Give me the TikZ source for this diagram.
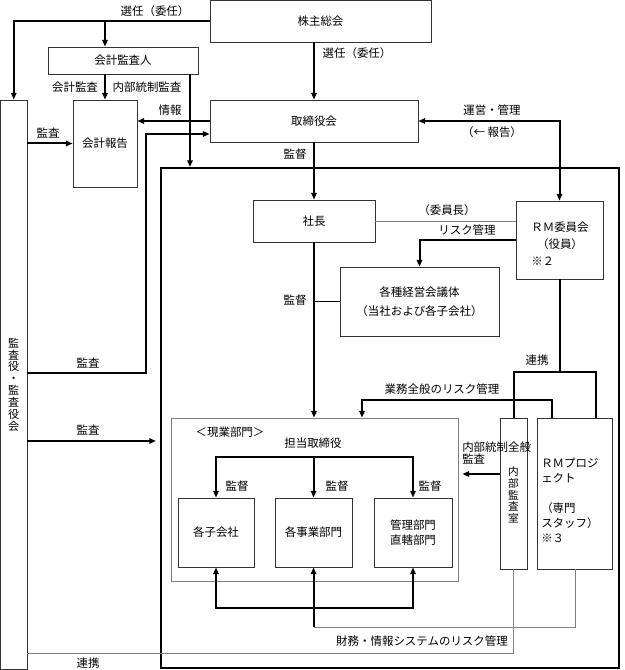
\documentclass[tikz,border=0pt]{standalone}
\usepackage{fontspec}
\setmainfont{Noto Sans CJK JP}
\usetikzlibrary{arrows.meta}
\newcommand\fs{\fontsize{8.6pt}{10pt}\selectfont}
\newcommand\bx[7][]{\node[box,minimum width={(#5-#3)*0.75pt},minimum height={(#6-#4)*0.75pt},#1] (#2) at ({(#3+#5)/2},{(#4+#6)/2}) {#7};}
\begin{document}
\begin{tikzpicture}[x=0.75pt,y=-0.75pt,
  box/.style={draw=black!80,line width=0.6pt,inner sep=0pt,align=center,font=\fs},
  thk/.style={line width=1.5pt},
  thn/.style={line width=0.6pt,draw=black!50},
  arr/.style={-{Triangle[length=5pt,width=4pt]}},
  lbl/.style={inner sep=0pt,font=\fs}]
\useasboundingbox (0,0) rectangle (624,670);
% boxes
\bx{shm}{210}{0.5}{431}{42}{株主総会}
\bx{aud}{48}{47}{198}{74}{会計監査人}
\bx{rep}{73}{100}{137}{187}{会計報告}
\bx[font=\fontsize{8.3pt}{8.9pt}\selectfont]{kan}{0.5}{100}{27}{669}{監\\査\\役\\・\\監\\査\\役\\会}
\bx{bod}{210}{100}{418}{142}{取締役会}
\bx[line width=1.5pt,draw=black]{big}{161}{168}{619}{668}{}
\bx{pres}{253}{200}{375}{242}{社長}
\bx[font=\fontsize{8.6pt}{14.2pt}\selectfont]{mtg}{340}{267}{499}{336}{各種経営会議体\\（当社および各子会社）}
\bx{rmc}{516}{201}{603}{279}{}
\bx[draw=black!50]{gen}{171}{418}{458}{581}{}
\bx{sub}{178}{498}{254}{567}{各子会社}
\bx{biz}{275}{498}{352}{567}{各事業部門}
\bx[font=\fontsize{8.6pt}{11.25pt}\selectfont]{adm}{374}{498}{452}{567}{管理部門\\直轄部門}
\node[box,minimum width={27*0.75pt},minimum height={151*0.75pt}] (ia) at (513.5,493.5) {};
\node[lbl,align=center,font=\fontsize{8pt}{8.8pt}\selectfont] (iat) at (513.5,495) {内\\部\\監\\査\\室};
\bx{rmp}{537}{418}{612}{569}{}
% texts inside RM boxes
\node[lbl,align=center,font=\fontsize{8.6pt}{12.4pt}\selectfont] (rmct) at (560,236) {ＲＭ委員会\\（役員）};
\node[lbl,anchor=west] (rmcn) at (531,261) {※２};
\node[lbl,anchor=west,align=left,font=\fontsize{8.6pt}{11.25pt}\selectfont] (rmpt) at (541,500.5) {ＲＭプロジ\\ェクト\\\mbox{}\\（専門\\スタッフ）\\※３};
% labels
\node[lbl] (l1) at (155,11) {選任（委任）};
\node[lbl] (l2) at (357,53) {選任（委任）};
\node[lbl] (l3) at (75,87) {会計監査};
\node[lbl] (l4) at (147,87) {内部統制監査};
\node[lbl] (l5) at (170,110) {情報};
\node[lbl] (l6) at (48,133) {監査};
\node[lbl] (l7) at (88,363) {監査};
\node[lbl] (l8) at (88,430) {監査};
\node[lbl] (l9) at (295,154) {監督};
\node[lbl] (l10) at (492,110) {運営・管理};
\node[lbl] (l11) at (492,132) {（← 報告）};
\node[lbl] (l12) at (447,210) {（委員長）};
\node[lbl] (l13) at (467,230) {リスク管理};
\node[lbl] (l14) at (295,300) {監督};
\node[lbl] (l15) at (537,360) {連携};
\node[lbl] (l16) at (442,389) {業務全般のリスク管理};
\node[lbl] (l17) at (230,432) {＜現業部門＞};
\node[lbl] (l18) at (313,443) {担当取締役};
\node[lbl] (l19) at (237,486) {監督};
\node[lbl] (l20) at (337,486) {監督};
\node[lbl] (l21) at (430,486) {監督};
\node[lbl,anchor=west] (l22) at (462,447) {内部統制全般};
\node[lbl,anchor=west] (l23) at (462,459) {監査};
\node[lbl] (l24) at (422,641) {財務・情報システムのリスク管理};
\node[lbl] (l25) at (88,663) {連携};
% connectors
\draw[thk,arr] (shm.west) -| (kan.north);
\draw[thk,arr] (shm.west -| rep.north) -- (aud.north -| rep.north);
\draw[thk,arr] (aud.south -| rep.north) -- (rep.north);
\draw[thk,arr] (aud.south -| 190,0) -- (big.north -| 190,0);
\draw[thk,arr] (bod.west) -- (bod.west -| rep.east);
\draw[thk,arr] (shm.south -| bod.north) -- (bod.north);
\draw[thk,arr] (kan.east |- rep.west) -- (rep.west);
\draw[thk,arr] (kan.east |- 0,373) -| (146,134) -- (bod.west |- 0,134);
\draw[thk,arr,shorten >=3pt] (kan.east |- 0,441) -- (big.west |- 0,441);
\draw[thk,arr] (bod.south) -- (pres.north);
\draw[thk,{Triangle[length=5pt,width=4pt]}-{Triangle[length=5pt,width=4pt]}] (bod.east) -| (rmc.north);
\draw[thn] (pres.east) -- (rmc.west |- pres.east);
\draw[thk,arr] (rmc.west |- 0,240) -| (mtg.north);
\draw[thk,arr] (pres.south) -- (gen.north -| pres.south);
\draw[line width=0.6pt] (pres.south |- mtg.west) -- (mtg.west);
\coordinate (rk) at (559.5,372);
\draw[thk] (rmc.south) -- (rk);
\draw[thk] (ia.north) -- (ia.north |- rk) -- (596,372) -- (rmp.north -| 596,0);
\draw[thk,arr] (rmp.north -| 552,0) -- (552,400) -| (gen.north -| 362,0);
\draw[thk,arr,shorten >=3pt] (ia.west |- 0,474) -- (gen.east |- 0,474);
\coordinate (tt) at (313.5,457);
\draw[thk,arr] (tt) -- (biz.north);
\draw[thk,arr] (tt) -| (sub.north);
\draw[thk,arr] (tt) -| (adm.north);
\coordinate (b1) at (313.5,608);
\draw[thk,arr] (b1) -| (sub.south);
\draw[thk,arr] (b1) -| (adm.south);
\coordinate (b2) at (313.5,627);
\draw[thk,arr] (b2) -- (biz.south);
\draw[thn] (b2) -| (rmp.south -| 575,0);
\draw[thn] (ia.south) |- (kan.east |- 0,653);
\end{tikzpicture}
\end{document}
